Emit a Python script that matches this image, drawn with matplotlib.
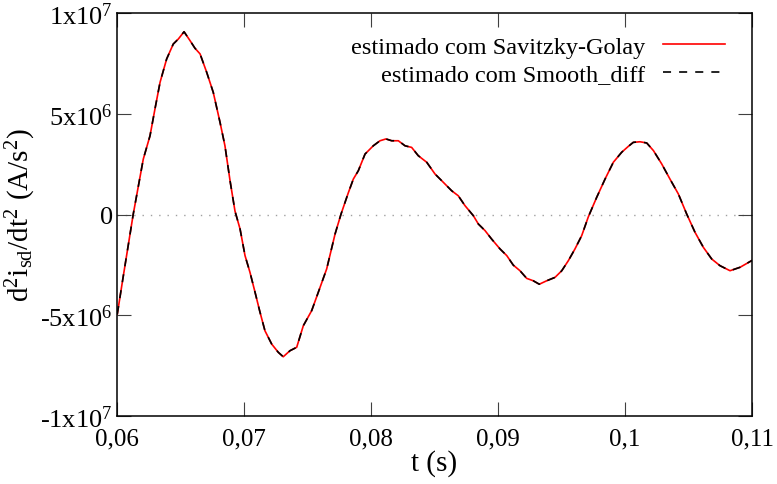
import matplotlib
matplotlib.use("Agg")
import matplotlib.pyplot as plt
import numpy as np

# ---- data ----
t = [0.060024, 0.06050, 0.06128, 0.06207, 0.06260, 0.06299, 0.06339, 0.06391,
     0.06443, 0.06483, 0.06528, 0.06575, 0.06614, 0.06654, 0.06706, 0.06758,
     0.06811, 0.06850, 0.06890, 0.06929, 0.06969, 0.07008, 0.07047, 0.07087,
     0.07126, 0.07165, 0.07218, 0.07270, 0.07309, 0.07362, 0.07415, 0.07467,
     0.07533, 0.07585, 0.07651, 0.07717, 0.07764, 0.07821, 0.07861, 0.07900,
     0.07953, 0.08018, 0.08071, 0.08118, 0.08163, 0.08215, 0.08268, 0.08320,
     0.08372, 0.08439, 0.08504, 0.08569, 0.08635, 0.08687, 0.08740, 0.08806,
     0.08845, 0.08898, 0.08950, 0.09016, 0.09069, 0.09120, 0.09173, 0.09226,
     0.09278, 0.09325, 0.09383, 0.09449, 0.09502, 0.09554, 0.09606, 0.09659,
     0.09711, 0.09777, 0.09843, 0.09908, 0.09974, 0.10026, 0.10065, 0.10118,
     0.10171, 0.10224, 0.10289, 0.10354, 0.10420, 0.10486, 0.10551, 0.10617,
     0.10683, 0.10748, 0.10827, 0.10906, 0.11000]
# values in units of 1e6 A/s^2
d2i_sg = [-4.94, -3.04, 0.02, 2.75, 3.91, 5.24, 6.56, 7.72,
          8.46, 8.71, 9.07, 8.63, 8.25, 7.97, 7.06, 6.06,
          4.58, 3.41, 1.68, 0.17, -0.72, -2.04, -2.87, -3.86,
          -4.85, -5.77, -6.43, -6.84, -7.06, -6.76, -6.59, -5.52,
          -4.77, -3.86, -2.70, -0.97, 0.02, 1.07, 1.76, 2.17,
          3.00, 3.41, 3.66, 3.75, 3.66, 3.66, 3.41, 3.33,
          2.92, 2.59, 2.01, 1.60, 1.18, 0.93, 0.44, -0.06,
          -0.47, -0.80, -1.22, -1.71, -2.04, -2.51, -2.79, -3.17,
          -3.29, -3.46, -3.29, -3.12, -2.79, -2.29, -1.71, -1.05,
          -0.12, 0.85, 1.76, 2.59, 3.09, 3.38, 3.58, 3.61,
          3.55, 3.17, 2.51, 1.76, 1.02, 0.02, -0.88, -1.63,
          -2.21, -2.54, -2.79, -2.62, -2.28]
d2i_smooth = list(d2i_sg)

series_labels = ["estimado com Savitzky-Golay", "estimado com Smooth_diff"]
xticks = [0.06, 0.07, 0.08, 0.09, 0.10, 0.11]
xticklabels = ["0,06", "0,07", "0,08", "0,09", "0,1", "0,11"]
yticks = [-1e7, -5e6, 0, 5e6, 1e7]
yticklabels = [r"-1x10$^{7}$", r"-5x10$^{6}$", "0", r"5x10$^{6}$", r"1x10$^{7}$"]

# ---- style ----
plt.rcParams['font.family'] = ['Liberation Serif', 'DejaVu Serif']
plt.rcParams['mathtext.fontset'] = 'custom'
plt.rcParams['mathtext.rm'] = 'Liberation Serif'
plt.rcParams['mathtext.it'] = 'Liberation Serif:italic'
plt.rcParams['mathtext.default'] = 'regular'
plt.rcParams['lines.scale_dashes'] = False

fig = plt.figure(figsize=(7.77, 4.85), dpi=100)
ax = fig.add_axes([117/777, 1-417/485, (752-117)/777, (417-14)/485])

scale = 1e6
ysg = np.array(d2i_sg) * scale
ysm = np.array(d2i_smooth) * scale

ax.axhline(0, color='#a0a0a0', lw=1.0, ls=(0, (1, 5)), zorder=1)
ax.plot(t, ysg, color='#ff0000', lw=1.2, label=series_labels[0], zorder=2)
ax.plot(t, ysm, color='black', lw=1.2, dashes=(5.8, 5.8), label=series_labels[1], zorder=3)

ax.set_xlim(0.06, 0.11)
ax.set_ylim(-1e7, 1e7)
ax.set_xticks(xticks)
ax.set_xticklabels(xticklabels)
ax.set_yticks(yticks)
ax.set_yticklabels(yticklabels)
ax.tick_params(direction='in', length=10, width=0.8, top=True, right=True,
               color='#404040')
ax.tick_params(axis='x', pad=8, labelsize=18)
ax.tick_params(axis='y', pad=3, labelsize=19)
for s in ax.spines.values():
    s.set_linewidth(1.1)

ax.set_xlabel("t (s)", fontsize=21, labelpad=0)
ax.set_ylabel(r"d$^2$i$_{sd}$/dt$^2$ (A/s$^2$)", fontsize=21, labelpad=2)

leg = ax.legend(loc='upper right', bbox_to_anchor=(0.973, 0.968), frameon=False,
                markerfirst=False, fontsize=17.5, handlelength=2.55,
                handletextpad=0.74, labelspacing=0.23, borderaxespad=0)

fig.savefig("out.png", dpi=100)
